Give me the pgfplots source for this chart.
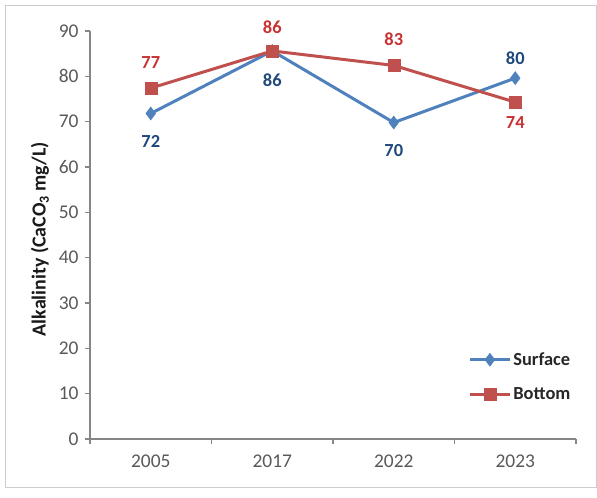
\documentclass[border=0pt]{standalone}
\usepackage{fontspec}
\setmainfont{Carlito}
\usepackage{pgfplots}
\usepackage{pgfplotstable}
\pgfplotsset{compat=1.18}
\definecolor{cSurf}{RGB}{79,129,189}
\definecolor{cBott}{RGB}{192,80,77}
\definecolor{cSurfLab}{RGB}{31,73,125}
\definecolor{cBottLab}{RGB}{200,50,50}
\definecolor{axgray}{RGB}{134,134,134}
\definecolor{tickgray}{RGB}{89,89,89}
\definecolor{framegray}{RGB}{205,205,205}
\pgfplotstableread{
x y lab dy
1 71.8 72 -28
2 85.6 86 -29
3 69.8 70 -28
4 79.6 80 20
}\surfdata
\pgfplotstableread{
x y lab dy
1 77.4 77 26
2 85.6 86 24
3 82.4 83 26
4 74.3 74 -20
}\bottdata
\newcommand{\fs}{\fontsize{18.5}{22}\selectfont}
\newcommand{\ft}{\fontsize{19.5}{23}\selectfont}
\newcommand{\fl}{\fontsize{20}{24}\selectfont}
\begin{document}
\begin{tikzpicture}[x=1bp,y=1bp]
\path (0,0) rectangle (597,498);
\draw[framegray, line width=1bp] (5,10) rectangle (596,492);
\begin{axis}[
  at={(90bp,59bp)}, anchor=south west,
  scale only axis, width=486bp, height=408bp,
  xmin=0.5, xmax=4.5, ymin=0, ymax=90,
  axis x line=bottom, axis y line=left,
  axis line style={-, axgray, line width=2bp},
  xtick={1,2,3,4}, xticklabels={2005,2017,2022,2023},
  minor xtick={0.5,1.5,2.5,3.5,4.5},
  ytick={0,10,...,90},
  tick align=outside,
  major tick length=5bp, minor tick length=5bp,
  major x tick style={draw=none},
  minor x tick style={axgray, line width=1.5bp},
  major y tick style={axgray, line width=1.5bp},
  ticklabel style={font=\ft, text=tickgray},
  /pgf/number format/assume math mode=true,
  xticklabel style={yshift=-7bp},
  yticklabel style={xshift=-3bp},
  ylabel={\textbf{Alkalinity (CaCO\textsubscript{3} mg/L)}},
  ylabel style={font=\fl, text=black!90, at={(axis description cs:-0.103,0.49)}, anchor=center},
  legend style={at={(0.772,0.222)}, anchor=north west, draw=none, fill=none,
    font=\fs\bfseries, row sep=17bp, text=black!85,
    /tikz/every even column/.append style={column sep=0bp}},
  legend cell align=left,
  legend image code/.code={\draw[mark repeat=2,mark phase=2] plot coordinates {(0bp,0bp)(20bp,0bp)(40bp,0bp)};},
  clip=false,
]
\addplot[color=cSurf, line width=3bp, mark=diamond*, mark size=6.5bp,
  mark options={fill=cSurf, draw=cSurf, line width=0.5bp},
  nodes near coords, point meta=explicit symbolic,
  visualization depends on={\thisrow{dy} \as \ldy},
  every node near coord/.append style={anchor=center, yshift=\ldy bp, font=\fs\bfseries, text=cSurfLab}]
  table[x=x, y=y, meta=lab]{\surfdata};
\addlegendentry{Surface}
\addplot[color=cBott, line width=3bp, mark=square*, mark size=6bp,
  mark options={fill=cBott, draw=cBott, line width=0.5bp},
  nodes near coords, point meta=explicit symbolic,
  visualization depends on={\thisrow{dy} \as \ldy},
  every node near coord/.append style={anchor=center, yshift=\ldy bp, font=\fs\bfseries, text=cBottLab}]
  table[x=x, y=y, meta=lab]{\bottdata};
\addlegendentry{Bottom}
\end{axis}
\end{tikzpicture}
\end{document}
